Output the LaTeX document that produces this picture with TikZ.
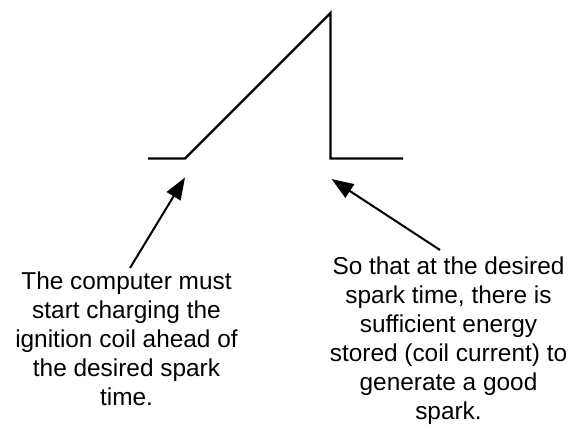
\documentclass[tikz,border=0pt]{standalone}
\usepackage{fontspec}
\setmainfont{Liberation Sans}
\usetikzlibrary{arrows.meta}
\begin{document}
\begin{tikzpicture}[x=1pt,y=-1pt,
  wave/.style={line width=2.3pt,line join=miter},
  pointer/.style={line width=2pt,-{Triangle[length=22pt,width=16pt]}},
  note/.style={align=center,inner sep=0pt,anchor=north,
    font=\fontsize{24.4}{29}\selectfont}]
\useasboundingbox (0,0) rectangle (572,426);
% coil current waveform
\coordinate (w0) at (148,158.5);
\coordinate (w1) at (185,158.5);
\coordinate (w2) at (330.5,13);
\coordinate (w3) at (330.5,158.5);
\coordinate (w4) at (403,158.5);
\draw[wave] (w0) -- (w1) -- (w2) -- (w3) -- (w4);
% explanatory notes
\node[note] (start) at (126.5,271.5) {The computer must\\start charging the\\ignition coil ahead of\\the desired spark\\time.};
\node[note] (spark) at (448.5,256.5) {So that at the desired\\spark time, there is\\sufficient energy\\stored (coil current) to\\generate a good\\spark.};
% arrows pointing at the waveform
\coordinate (t1) at (130,268);
\coordinate (h1) at (185,177.5);
\coordinate (t2) at (440,250);
\coordinate (h2) at (331.5,179);
\draw[pointer] (t1) -- (h1);
\draw[pointer] (t2) -- (h2);
\end{tikzpicture}
\end{document}
